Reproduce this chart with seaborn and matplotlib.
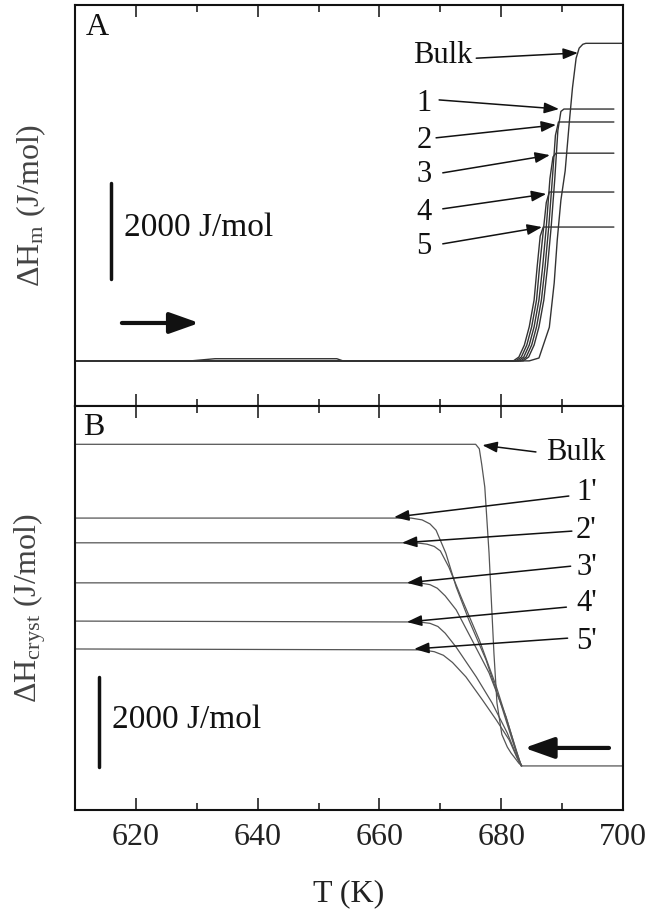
import matplotlib
matplotlib.use("Agg")
import matplotlib.pyplot as plt
import seaborn as sns

# ---- data (T in K, H in J/mol) ----

# panel A: melting
T_bulk_A = [610, 629, 633, 653, 654, 684.6, 686.2, 687.9, 688.7, 689.2, 689.8, 690.5, 691.2, 691.7, 692.3, 692.8, 693.4, 693.9, 700]
H_bulk_A = [0, 0, 45, 45, 0, 0, 60, 700, 1625, 2520, 3350, 3960, 5000, 5690, 6310, 6520, 6600, 6620, 6620]

T_m1 = [610, 683.6, 684.5, 685.4, 686.2, 687.0, 687.6, 688.2, 688.8, 689.3, 689.8, 690.3, 698.5]
H_m1 = [0, 0, 80, 330, 710, 1270, 1960, 2790, 3800, 4800, 5200, 5250, 5250]
T_m2 = [610, 683.2, 684.1, 685.0, 685.8, 686.6, 687.2, 687.8, 688.4, 688.9, 689.4, 698.5]
H_m2 = [0, 0, 80, 330, 710, 1270, 1960, 2790, 3800, 4700, 4980, 4980]
T_m3 = [610, 682.8, 683.7, 684.6, 685.4, 686.2, 686.8, 687.4, 688.0, 688.5, 689.0, 698.5]
H_m3 = [0, 0, 80, 330, 710, 1270, 1960, 2790, 3800, 4250, 4330, 4330]
T_m4 = [610, 682.4, 683.3, 684.2, 685.0, 685.8, 686.3, 686.9, 687.4, 687.9, 698.5]
H_m4 = [0, 0, 80, 330, 710, 1270, 1960, 2700, 3300, 3520, 3520]
T_m5 = [610, 682.0, 682.9, 683.8, 684.6, 685.4, 685.9, 686.4, 686.9, 698.5]
H_m5 = [0, 0, 80, 330, 710, 1270, 1960, 2600, 2790, 2790]

# panel B: crystallization
T_bulk_B = [610, 675.8, 676.4, 676.8, 677.3, 678.0, 678.8, 679.3, 680.1, 681.0, 681.6, 682.4, 682.9, 683.4, 700]
H_bulk_B = [7150, 7150, 7050, 6700, 6200, 4730, 2510, 1400, 700, 420, 290, 150, 60, 0, 0]

T_c1 = [610, 665.2, 667.0, 668.3, 669.3, 670.9, 672.6, 674.7, 677.5, 680.1, 681.8, 682.9, 683.4]
H_c1 = [5510, 5510, 5470, 5380, 5240, 4730, 3980, 3240, 2360, 1310, 580, 130, 0]
T_c2 = [610, 666.0, 667.8, 669.0, 670.0, 671.4, 673.6, 676.4, 679.2, 681.6, 682.7, 683.3]
H_c2 = [4960, 4960, 4930, 4880, 4780, 4420, 3690, 2800, 1760, 730, 250, 0]
T_c3 = [610, 666.5, 668.3, 669.5, 670.8, 672.6, 675.2, 678.0, 680.8, 682.4, 683.3]
H_c3 = [4070, 4070, 4030, 3950, 3780, 3470, 2800, 2070, 1090, 360, 0]
T_c4 = [610, 666.5, 668.3, 669.6, 670.8, 672.6, 675.9, 678.5, 681.0, 682.6, 683.3]
H_c4 = [3220, 3200, 3170, 3100, 2950, 2640, 1980, 1400, 730, 200, 0]
T_c5 = [610, 667.0, 669.0, 670.5, 672.0, 674.2, 676.9, 679.2, 681.3, 682.6, 683.3]
H_c5 = [2600, 2580, 2540, 2460, 2300, 1980, 1470, 1020, 580, 180, 0]

# labels: (text, text T, text H, arrow tail T, tail H, head T, head H)
labels_A = [
    ("Bulk", 670.4, 6375, 675.9, 6310, 692.6, 6420),
    ("1", 667.3, 5370, 669.8, 5440, 689.5, 5250),
    ("2", 667.3, 4600, 669.3, 4650, 689.0, 4920),
    ("3", 667.3, 3875, 670.4, 3920, 688.0, 4290),
    ("4", 667.3, 3100, 670.4, 3170, 687.4, 3480),
    ("5", 667.3, 2375, 670.4, 2440, 686.7, 2790),
]
labels_B = [
    ("Bulk", 692.3, 6960, 685.7, 6980, 676.9, 7130),
    ("1'", 694.0, 6070, 691.1, 6000, 662.4, 5530),
    ("2'", 694.0, 5240, 691.6, 5220, 663.7, 4960),
    ("3'", 694.0, 4420, 691.4, 4440, 664.5, 4070),
    ("4'", 694.0, 3620, 690.7, 3530, 664.5, 3200),
    ("5'", 694.0, 2760, 690.9, 2840, 665.7, 2600),
]

x_ticks = [620, 640, 660, 680, 700]

# ---- style ----
sns.set_theme(style="ticks")
plt.rcParams["font.family"] = ["Liberation Serif", "DejaVu Serif"]
plt.rcParams["mathtext.fontset"] = "custom"
plt.rcParams["mathtext.rm"] = "Liberation Serif"
plt.rcParams["mathtext.it"] = "Liberation Serif"
FS = 23

fig = plt.figure(figsize=(6.54, 9.16), dpi=100)
axA = fig.add_axes([0.1147, 0.5568, 0.8379, 0.4378])
axB = fig.add_axes([0.1147, 0.1157, 0.8379, 0.4410])

for T, H in [(T_m1, H_m1), (T_m2, H_m2), (T_m3, H_m3), (T_m4, H_m4), (T_m5, H_m5), (T_bulk_A, H_bulk_A)]:
    sns.lineplot(x=T, y=H, sort=False, estimator=None, ax=axA, color="#333333", lw=1.0)

for T, H in [(T_c1, H_c1), (T_c2, H_c2), (T_c3, H_c3), (T_c4, H_c4), (T_c5, H_c5), (T_bulk_B, H_bulk_B)]:
    sns.lineplot(x=T, y=H, sort=False, estimator=None, ax=axB, color="#555555", lw=0.9)

axA.set_ylim(-940, 7420)
axB.set_ylim(-980, 8000)

for ax, labels in [(axA, labels_A), (axB, labels_B)]:
    ax.set_xlim(610, 700)
    ax.set_yticks([])
    ax.set_xticks(x_ticks)
    ax.set_xticks([630, 650, 670, 690], minor=True)
    ax.tick_params(axis="x", which="major", direction="in", top=True, bottom=True,
                   length=8.5, width=1.2, color="#222222", labelsize=FS, pad=9,
                   labelcolor="#222222")
    ax.tick_params(axis="x", which="minor", direction="in", top=True, bottom=True,
                   length=5, width=1.2, color="#222222")
    for s in ax.spines.values():
        s.set_linewidth(1.5)
        s.set_color("#111111")
    for txt, tx, ty, ax0, ay0, hx, hy in labels:
        ax.text(tx, ty, txt, fontsize=FS - 1, ha="center", va="center", color="#111111")
        ax.annotate("", xy=(hx, hy), xytext=(ax0, ay0),
                    arrowprops=dict(arrowstyle="-|>,head_length=0.6,head_width=0.22",
                                    lw=1.1, color="#111111", shrinkA=0, shrinkB=0,
                                    mutation_scale=15))

axA.tick_params(axis="x", labelbottom=False)

# panel letters
axA.text(613.6, 6960, "A", fontsize=FS, ha="center", va="center", color="#111111")
axB.text(613.1, 7530, "B", fontsize=FS, ha="center", va="center", color="#111111")

# scale bars
axA.plot([615.9, 615.9], [1700, 3700], color="#111111", lw=2.5)
axA.text(618.0, 2770, "2000 J/mol", fontsize=FS + 1, ha="left", va="center", color="#111111")
axB.plot([613.9, 613.9], [-20, 1980], color="#111111", lw=2.5)
axB.text(616.0, 1020, "2000 J/mol", fontsize=FS + 1, ha="left", va="center", color="#111111")

# heating / cooling direction arrows
axA.annotate("", xy=(630.4, 790), xytext=(617.7, 790),
             arrowprops=dict(arrowstyle="-|>,head_length=0.9,head_width=0.32",
                             lw=3, color="#111111", shrinkA=0, shrinkB=0,
                             mutation_scale=20))
axB.annotate("", xy=(683.8, 400), xytext=(697.7, 400),
             arrowprops=dict(arrowstyle="-|>,head_length=0.9,head_width=0.32",
                             lw=3, color="#111111", shrinkA=0, shrinkB=0,
                             mutation_scale=20))

axA.set_ylabel("ΔH$_{\\mathrm{m}}$ (J/mol)", fontsize=FS, color="#444444")
axB.set_ylabel("ΔH$_{\\mathrm{cryst}}$ (J/mol)", fontsize=FS, color="#444444")
axA.yaxis.set_label_coords(-0.05, 0.5)
axB.yaxis.set_label_coords(-0.05, 0.5)
axB.set_xlabel("T (K)", fontsize=FS, color="#222222", labelpad=20)

plt.savefig("out.png", dpi=100)
